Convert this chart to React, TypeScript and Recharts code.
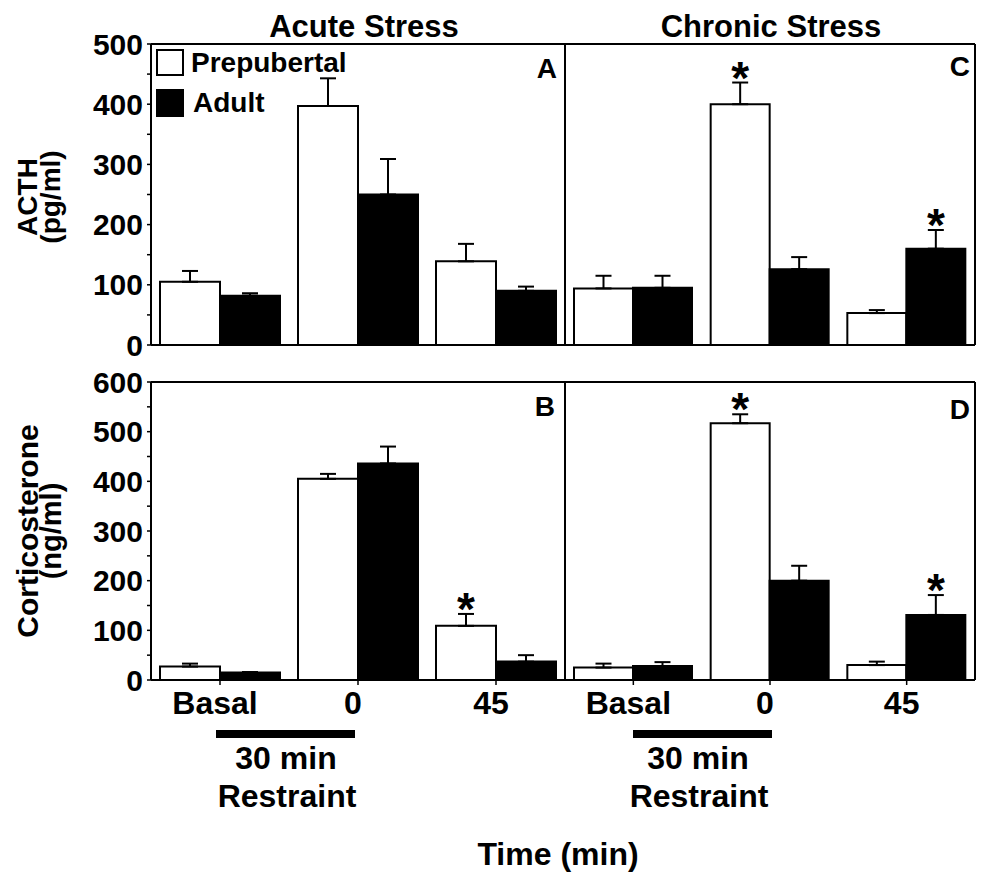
import { BarChart, Bar, XAxis, YAxis, ErrorBar, LabelList, ReferenceLine } from 'recharts';

const W = 982;
const H = 874;
const FONT = '"Liberation Sans", Arial, Helvetica, sans-serif';

const GROUPS = ['Basal', '0', '45'];

const ACTH_TICKS = [0, 50, 100, 150, 200, 250, 300, 350, 400, 450, 500];
const CORT_TICKS = [0, 50, 100, 150, 200, 250, 300, 350, 400, 450, 500, 550, 600];

// ACTH (pg/ml), acute
const ACTH_ACUTE_PRE = [105, 397, 139];
const ACTH_ACUTE_PRE_ERR = [18, 46, 29];
const ACTH_ACUTE_ADULT = [82, 250, 90];
const ACTH_ACUTE_ADULT_ERR = [4, 59, 7];
// ACTH, chronic
const ACTH_CHRONIC_PRE = [94, 400, 53];
const ACTH_CHRONIC_PRE_ERR = [21, 36, 5];
const ACTH_CHRONIC_ADULT = [95, 126, 160];
const ACTH_CHRONIC_ADULT_ERR = [20, 20, 31];
// corticosterone (ng/ml), acute
const CORT_ACUTE_PRE = [27, 405, 109];
const CORT_ACUTE_PRE_ERR = [6, 10, 24];
const CORT_ACUTE_ADULT = [15, 436, 37];
const CORT_ACUTE_ADULT_ERR = [1, 34, 13];
// corticosterone, chronic
const CORT_CHRONIC_PRE = [25, 517, 30];
const CORT_CHRONIC_PRE_ERR = [8, 18, 7];
const CORT_CHRONIC_ADULT = [28, 200, 131];
const CORT_CHRONIC_ADULT_ERR = [8, 30, 40];

// significance stars
const NONE = [false, false, false];
const ACTH_CHRONIC_PRE_SIG = [false, true, false];
const ACTH_CHRONIC_ADULT_SIG = [false, false, true];
const CORT_ACUTE_PRE_SIG = [false, false, true];
const CORT_CHRONIC_PRE_SIG = [false, true, false];
const CORT_CHRONIC_ADULT_SIG = [false, false, true];

function rowsFor(pre: number[], preErr: number[], adult: number[], adultErr: number[]) {
  return GROUPS.map((g, i) => ({
    cat: g,
    pre: pre[i],
    preErr: [0, preErr[i]],
    adult: adult[i],
    adultErr: [0, adultErr[i]],
  }));
}

const star = (errs: number[], sig: boolean[]) => (p: any) => {
  const { x, y, width, height, value, index } = p;
  if (!sig[index] || !value) return null;
  const top = Number(y) - errs[index] * (Number(height) / Number(value));
  return (
    <text x={Number(x) + Number(width) / 2} y={top + 11} textAnchor="middle"
      fontSize={46} fontWeight="bold" fill="#000" fontFamily={FONT}>*</text>
  );
};

const CatTick = (props: any) => {
  const { x, y, payload } = props;
  return (
    <text x={x - 5} y={y + 27} textAnchor="middle" fontSize={32} fontWeight="bold"
      fill="#000" fontFamily={FONT}>{payload.value}</text>
  );
};

const axisStroke = { stroke: '#000', strokeWidth: 2 };
const tickStroke = { stroke: '#000', strokeWidth: 1.5 };

function Panel({ rows, ticks, plotTop, plotBottom, plotLeft, plotRight, left, bottom, preErr, adultErr, preSig, adultSig }: any) {
  const max = ticks[ticks.length - 1];
  const yw = left ? 60 : 1;
  const margin = {
    top: plotTop,
    bottom: H - plotBottom - 1,
    left: plotLeft - yw,
    right: left ? W - plotRight : W - plotRight - 1,
  };
  return (
    <div style={{ position: 'absolute', left: 0, top: 0 }}>
      <BarChart width={W} height={H} data={rows} margin={margin} barCategoryGap={9} barGap={0}>
        <XAxis dataKey="cat" height={1} interval={0} axisLine={axisStroke}
          tickLine={tickStroke} tickSize={5}
          tick={bottom ? <CatTick /> : false} />
        <YAxis yAxisId="l" width={yw} type="number" domain={[0, max]} ticks={ticks}
          axisLine={axisStroke} tickLine={tickStroke} tickSize={4}
          tickMargin={4} interval={0}
          tick={left ? { fill: '#000', fontSize: 30, fontWeight: 'bold', fontFamily: FONT } : false}
          tickFormatter={(v: number) => (v % 100 === 0 ? String(v) : '')} />
        {!left && (
          <YAxis yAxisId="r" orientation="right" width={1} type="number" domain={[0, max]}
            ticks={ticks} tick={false} tickLine={false} axisLine={axisStroke} />
        )}
        <ReferenceLine yAxisId="l" y={max} stroke="#000" strokeWidth={2} />
        <Bar yAxisId="l" dataKey="pre" fill="#fff" stroke="#000" strokeWidth={2} isAnimationActive={false}>
          <ErrorBar dataKey="preErr" width={8} stroke="#000" strokeWidth={2} direction="y" isAnimationActive={false} />
          <LabelList dataKey="pre" content={star(preErr, preSig)} />
        </Bar>
        <Bar yAxisId="l" dataKey="adult" fill="#000" stroke="#000" strokeWidth={2} isAnimationActive={false}>
          <ErrorBar dataKey="adultErr" width={8} stroke="#000" strokeWidth={2} direction="y" isAnimationActive={false} />
          <LabelList dataKey="adult" content={star(adultErr, adultSig)} />
        </Bar>
      </BarChart>
    </div>
  );
}

const txt = { fontFamily: FONT, fontWeight: 'bold' as const, fill: '#000' };

export default function App() {
  return (
    <div style={{ position: 'relative', width: W, height: H, background: '#fff', fontFamily: FONT }}>
      <style>{'body{margin:0;background:#fff}'}</style>
      <Panel rows={rowsFor(ACTH_ACUTE_PRE, ACTH_ACUTE_PRE_ERR, ACTH_ACUTE_ADULT, ACTH_ACUTE_ADULT_ERR)}
        ticks={ACTH_TICKS} plotTop={44} plotBottom={345} plotLeft={151} plotRight={565} left bottom={false}
        preErr={ACTH_ACUTE_PRE_ERR} adultErr={ACTH_ACUTE_ADULT_ERR} preSig={NONE} adultSig={NONE} />
      <Panel rows={rowsFor(ACTH_CHRONIC_PRE, ACTH_CHRONIC_PRE_ERR, ACTH_CHRONIC_ADULT, ACTH_CHRONIC_ADULT_ERR)}
        ticks={ACTH_TICKS} plotTop={44} plotBottom={345} plotLeft={565} plotRight={975} left={false} bottom={false}
        preErr={ACTH_CHRONIC_PRE_ERR} adultErr={ACTH_CHRONIC_ADULT_ERR}
        preSig={ACTH_CHRONIC_PRE_SIG} adultSig={ACTH_CHRONIC_ADULT_SIG} />
      <Panel rows={rowsFor(CORT_ACUTE_PRE, CORT_ACUTE_PRE_ERR, CORT_ACUTE_ADULT, CORT_ACUTE_ADULT_ERR)}
        ticks={CORT_TICKS} plotTop={382} plotBottom={680} plotLeft={151} plotRight={565} left bottom
        preErr={CORT_ACUTE_PRE_ERR} adultErr={CORT_ACUTE_ADULT_ERR}
        preSig={CORT_ACUTE_PRE_SIG} adultSig={NONE} />
      <Panel rows={rowsFor(CORT_CHRONIC_PRE, CORT_CHRONIC_PRE_ERR, CORT_CHRONIC_ADULT, CORT_CHRONIC_ADULT_ERR)}
        ticks={CORT_TICKS} plotTop={382} plotBottom={680} plotLeft={565} plotRight={975} left={false} bottom
        preErr={CORT_CHRONIC_PRE_ERR} adultErr={CORT_CHRONIC_ADULT_ERR}
        preSig={CORT_CHRONIC_PRE_SIG} adultSig={CORT_CHRONIC_ADULT_SIG} />

      <svg width={W} height={H} style={{ position: 'absolute', left: 0, top: 0, pointerEvents: 'none' }}>
        <text x={364} y={37} textAnchor="middle" fontSize={31} {...txt}>Acute Stress</text>
        <text x={771} y={37} textAnchor="middle" fontSize={31} {...txt}>Chronic Stress</text>

        <text transform="rotate(-90 27 197)" x={27} y={197} textAnchor="middle" dominantBaseline="central" fontSize={28} {...txt}>ACTH</text>
        <text transform="rotate(-90 50 197)" x={50} y={197} textAnchor="middle" dominantBaseline="central" fontSize={28} {...txt}>(pg/ml)</text>
        <text transform="rotate(-90 27 531)" x={27} y={531} textAnchor="middle" dominantBaseline="central" fontSize={30} {...txt}>Corticosterone</text>
        <text transform="rotate(-90 51 531)" x={51} y={531} textAnchor="middle" dominantBaseline="central" fontSize={29} {...txt}>(ng/ml)</text>

        <rect x={157} y={50} width={26} height={25} fill="#fff" stroke="#000" strokeWidth={2} />
        <text x={191} y={72} fontSize={28} {...txt}>Prepubertal</text>
        <rect x={156} y={89} width={28} height={28} fill="#000" />
        <text x={193} y={112} fontSize={28} {...txt}>Adult</text>

        <text x={557} y={78} textAnchor="end" fontSize={28} {...txt}>A</text>
        <text x={970} y={76} textAnchor="end" fontSize={28} {...txt}>C</text>
        <text x={555} y={416} textAnchor="end" fontSize={28} {...txt}>B</text>
        <text x={970} y={419} textAnchor="end" fontSize={28} {...txt}>D</text>

        <rect x={216} y={730} width={139} height={8} fill="#000" />
        <text x={286} y={769} textAnchor="middle" fontSize={32} {...txt}>30 min</text>
        <text x={287} y={807} textAnchor="middle" fontSize={32} {...txt}>Restraint</text>
        <rect x={633} y={730} width={139} height={8} fill="#000" />
        <text x={698} y={769} textAnchor="middle" fontSize={32} {...txt}>30 min</text>
        <text x={699} y={807} textAnchor="middle" fontSize={32} {...txt}>Restraint</text>

        <text x={558} y={865} textAnchor="middle" fontSize={32} {...txt}>Time (min)</text>
      </svg>
    </div>
  );
}
